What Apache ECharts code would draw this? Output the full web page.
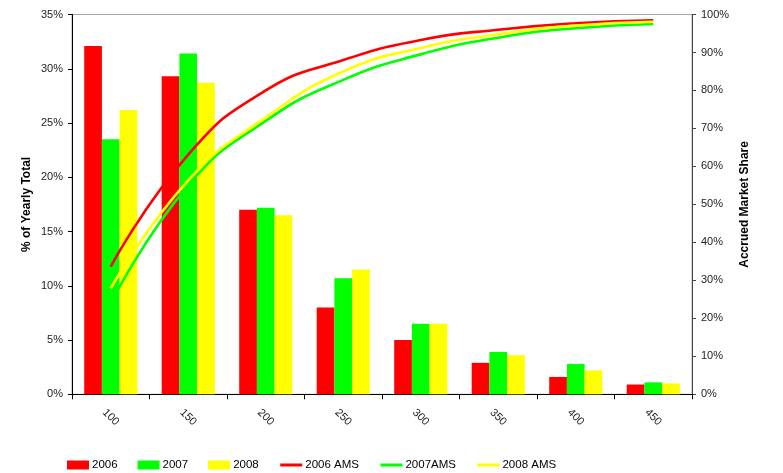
<!DOCTYPE html>
<html><head><meta charset="utf-8">
<script src="https://cdn.jsdelivr.net/npm/echarts@6/dist/echarts.min.js"></script>
<style>html,body{margin:0;padding:0;background:#fff}#c{width:783px;height:473px}</style>
</head><body><div id="c"></div>
<script>
// Categories (x axis)
const categories = ['100', '150', '200', '250', '300', '350', '400', '450'];
// % of yearly total (left axis)
const share2006 = [32.1, 29.3, 17.0, 8.0, 5.0, 2.9, 1.6, 0.9];
const share2007 = [23.5, 31.4, 17.2, 10.7, 6.5, 3.9, 2.8, 1.1];
const share2008 = [26.2, 28.7, 16.5, 11.5, 6.5, 3.6, 2.2, 1.0];
// Accrued market share (right axis)
const ams2006 = [33.6, 63.1, 80.0, 88.0, 93.3, 96.0, 97.7, 98.5];
const ams2007 = [23.9, 55.0, 72.0, 82.8, 89.5, 93.9, 96.4, 97.5];
const ams2008 = [27.9, 56.3, 72.9, 85.0, 91.2, 94.8, 97.1, 98.1];
// Axis ranges
const leftMax = 35, leftStep = 5;
const rightMax = 100, rightStep = 10;

const FONT = "'Liberation Sans', Arial, sans-serif";
const chart = echarts.init(document.getElementById('c'), null, {renderer: 'canvas'});

const barStyle = (name, data, color) => ({
  name, type: 'bar', data, barWidth: 17.7, barGap: '0%',
  itemStyle: {color}, xAxisIndex: 0, yAxisIndex: 0, animation: false
});
const lineStyle = (name, data, color) => ({
  name, type: 'line', data, smooth: 0.5, symbol: 'none',
  lineStyle: {color, width: 2.6}, itemStyle: {color},
  xAxisIndex: 0, yAxisIndex: 1, animation: false, z: 3
});

chart.setOption({
  animation: false,
  backgroundColor: '#fff',
  grid: {left: 72, right: 91, top: 14.5, bottom: 78.7, show: true,
         borderColor: '#a6a6a6', borderWidth: 1, backgroundColor: 'transparent'},
  legend: {
    left: 62, top: 454, itemWidth: 22, itemHeight: 9, itemGap: 20,
    textStyle: {fontFamily: FONT, fontSize: 11.5, color: '#000', padding: [0, 0, 0, -2]},
    data: [
      {name: '2006', icon: 'rect'}, {name: '2007', icon: 'rect'}, {name: '2008', icon: 'rect'},
      {name: '2006 AMS', itemStyle: {opacity: 0}, lineStyle: {width: 3}},
      {name: '2007AMS', itemStyle: {opacity: 0}, lineStyle: {width: 3}},
      {name: '2008 AMS', itemStyle: {opacity: 0}, lineStyle: {width: 3}}
    ]
  },
  xAxis: [{
    type: 'category', data: categories, boundaryGap: true,
    axisLine: {lineStyle: {color: '#000', width: 1}},
    axisTick: {show: true, length: 5, lineStyle: {color: '#000'}},
    axisLabel: {rotate: -45, align: 'center', verticalAlign: 'middle', margin: 23,
                fontFamily: FONT, fontSize: 11, color: '#222'},
    splitLine: {show: false}
  }],
  yAxis: [{
    type: 'value', min: 0, max: leftMax, interval: leftStep,
    name: '% of Yearly Total', nameLocation: 'middle', nameGap: 39, nameMoveOverlap: false,
    nameTextStyle: {fontFamily: FONT, fontSize: 12, fontWeight: 'bold', color: '#000'},
    axisLine: {show: true, lineStyle: {color: '#000'}},
    axisTick: {show: true, length: 4, lineStyle: {color: '#000'}},
    axisLabel: {formatter: '{value}%', margin: 9, fontFamily: FONT, fontSize: 11, color: '#222'},
    splitLine: {show: false}
  }, {
    type: 'value', min: 0, max: rightMax, interval: rightStep, position: 'right',
    name: 'Accrued Market Share', nameLocation: 'middle', nameGap: 47, nameRotate: 90,
    nameMoveOverlap: false,
    nameTextStyle: {fontFamily: FONT, fontSize: 12, fontWeight: 'bold', color: '#000'},
    axisLine: {show: true, lineStyle: {color: '#444'}},
    axisTick: {show: true, length: 4, lineStyle: {color: '#444'}},
    axisLabel: {formatter: '{value}%', margin: 9, fontFamily: FONT, fontSize: 11, color: '#222'},
    splitLine: {show: false}
  }],
  series: [
    barStyle('2006', share2006, '#ff0000'),
    barStyle('2007', share2007, '#00ff00'),
    barStyle('2008', share2008, '#ffff00'),
    lineStyle('2006 AMS', ams2006, '#ff0000'),
    lineStyle('2007AMS', ams2007, '#00ff00'),
    lineStyle('2008 AMS', ams2008, '#ffff00')
  ]
});
</script></body></html>
